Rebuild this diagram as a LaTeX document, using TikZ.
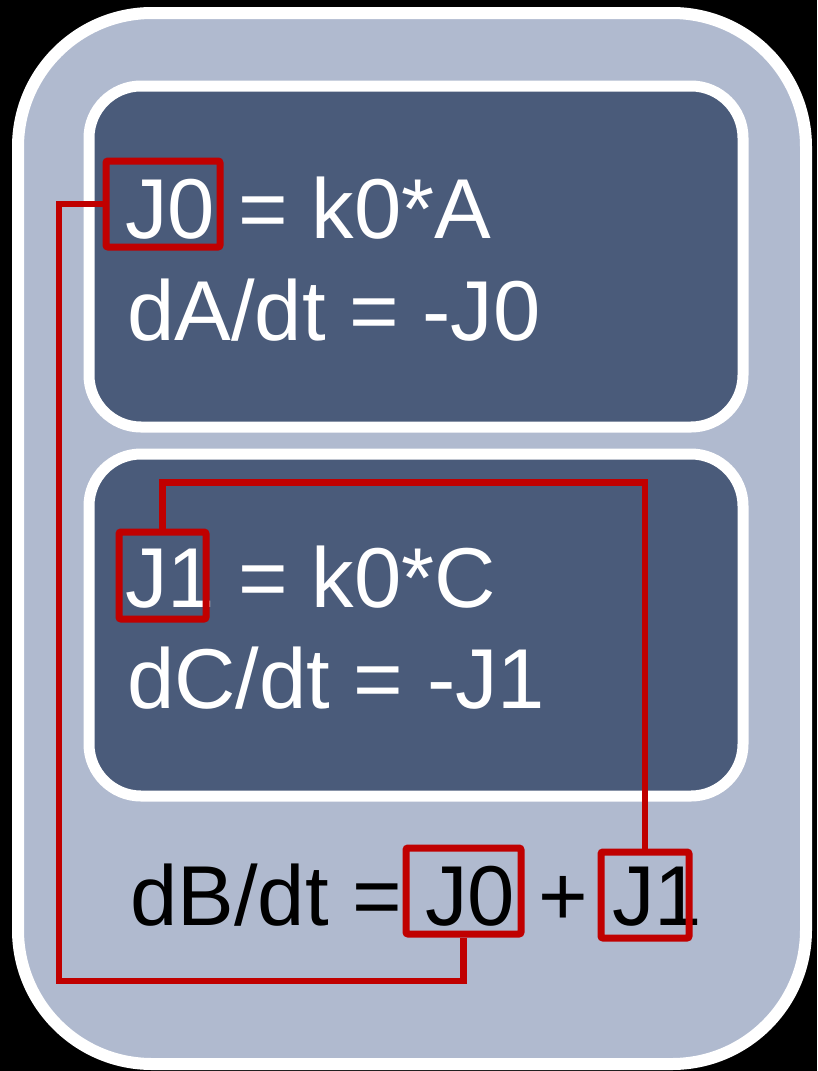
\documentclass[tikz,border=0pt]{standalone}
\usepackage{fontspec}
\setmainfont{Liberation Sans}
\usepackage{tikz}
\definecolor{outerfill}{HTML}{B0BACF}
\definecolor{innerfill}{HTML}{4A5B7A}
\definecolor{linkred}{HTML}{C00000}
\tikzset{
  eqtext/.style={anchor=base west,inner sep=0pt,font=\fontsize{85}{100}\selectfont},
  redbox/.style={draw=linkred,line width=7pt,rounded corners=2pt,inner sep=0pt},
  link/.style={draw=linkred,line width=6.5pt}
}
\begin{document}
\begin{tikzpicture}[x=1pt,y=-1pt]
	% 背景
	\fill[black] (0,0) rectangle (817,1071);
	% 外框
	\draw[white,line width=12pt,fill=outerfill,rounded corners=134pt] (18,13) rectangle (806,1064);
	% 两个内框
	\draw[white,line width=11pt,fill=innerfill,rounded corners=52pt] (89,86) rectangle (743,427);
	\draw[white,line width=11pt,fill=innerfill,rounded corners=52pt] (89,454) rectangle (743,796);
	% 方程
	\node[eqtext,white] (eqA) at (125,238) {J0 = k0*A};
	\node[eqtext,white] (rateA) at (127,340) {dA/dt = -J0};
	\node[eqtext,white] (eqC) at (125,607) {J1 = k0*C};
	\node[eqtext,white] (rateC) at (127,708) {dC/dt = -J1};
	\node[eqtext,black] (rateB) at (130,925) {dB/dt = J0 + J1};
	% 标记通量
	\node[redbox,minimum width=114,minimum height=86] (fluxJ0) at (163,204) {};
	\node[redbox,minimum width=87,minimum height=87] (fluxJ1) at (162.5,575.5) {};
	\node[redbox,minimum width=115,minimum height=86] (termJ0) at (463.5,891) {};
	\node[redbox,minimum width=88,minimum height=86] (termJ1) at (645,895) {};
	% 连线
	\coordinate (loopJ0) at (59,981);
	\draw[link] (fluxJ0.west) -| (loopJ0) -| (termJ0.south);
	\draw[link] (fluxJ1.north) -- ++(0,-46) -| (termJ1.north);
\end{tikzpicture}
\end{document}
